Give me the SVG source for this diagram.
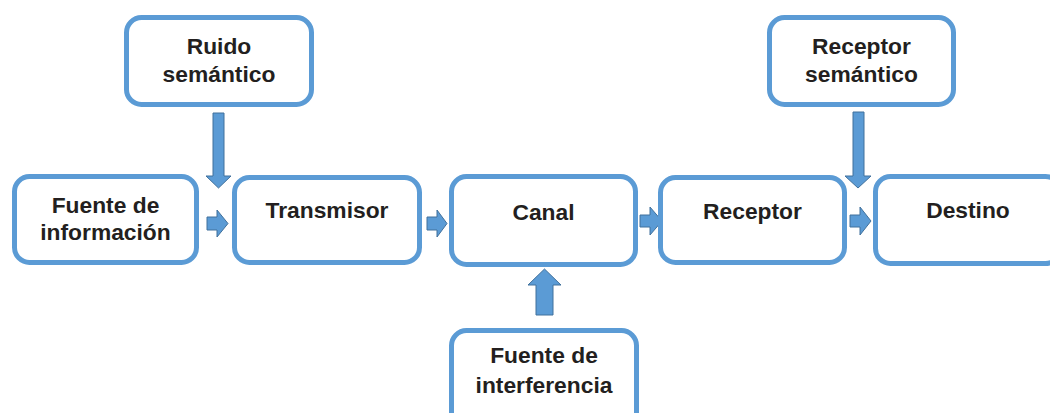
<svg xmlns="http://www.w3.org/2000/svg" width="1050" height="413" viewBox="0 0 1050 413">
<style>
.box{fill:#fff;stroke:#5B9BD5;stroke-width:5}
.lbl{font-family:"Liberation Sans",Arial,sans-serif;font-weight:bold;font-size:22.8px;fill:#231F20;text-anchor:middle}
.arr{fill:#5B9BD5;stroke:#41719C;stroke-width:1}
</style>
<rect width="1050" height="413" fill="#fff"/>
<g id="connectors">
<polygon class="arr" points="207,217 217,217 217,210 228,223.5 217,237 217,230 207,230"/>
<polygon class="arr" points="427,217 437,217 437,210 447,223.5 437,237 437,230 427,230"/>
<polygon class="arr" points="640,215 650,215 650,207 662,221 650,235 650,227 640,227"/>
<polygon class="arr" points="850,215 860,215 860,207 871,221 860,235 860,227 850,227"/>
<polygon class="arr" points="213,113 224,113 224,176 231,176 218.5,188 206,176 213,176"/>
<polygon class="arr" points="853,112 864,112 864,176 871,176 858,188 845,176 853,176"/>
<polygon class="arr" points="536,315 553,315 553,285 561,285 544.5,269 528,285 536,285"/>
</g>
<g id="fuente-informacion">
<rect class="box" x="14.5" y="176.5" width="182" height="86" rx="15"/>
<text class="lbl" x="105.5" y="213">Fuente de</text>
<text class="lbl" x="105.5" y="240">información</text>
</g>
<g id="transmisor">
<rect class="box" x="234.5" y="177.5" width="185" height="85" rx="15"/>
<text class="lbl" x="327" y="218">Transmisor</text>
</g>
<g id="canal">
<rect class="box" x="451.5" y="176.5" width="184" height="88" rx="15"/>
<text class="lbl" x="543.5" y="220">Canal</text>
</g>
<g id="receptor">
<rect class="box" x="660.5" y="177.5" width="184" height="85" rx="15"/>
<text class="lbl" x="752.5" y="219">Receptor</text>
</g>
<g id="destino">
<rect class="box" x="875.5" y="176.5" width="185" height="87" rx="15"/>
<text class="lbl" x="968" y="218">Destino</text>
</g>
<g id="ruido-semantico">
<rect class="box" x="126.5" y="17.5" width="185" height="87" rx="15"/>
<text class="lbl" x="219" y="54">Ruido</text>
<text class="lbl" x="219" y="82">semántico</text>
</g>
<g id="receptor-semantico">
<rect class="box" x="769.5" y="17.5" width="184" height="87" rx="15"/>
<text class="lbl" x="861.5" y="54">Receptor</text>
<text class="lbl" x="861.5" y="82">semántico</text>
</g>
<g id="fuente-interferencia">
<rect class="box" x="451.5" y="330.5" width="185" height="100" rx="15"/>
<text class="lbl" x="544" y="363">Fuente de</text>
<text class="lbl" x="544" y="393">interferencia</text>
</g>
</svg>
